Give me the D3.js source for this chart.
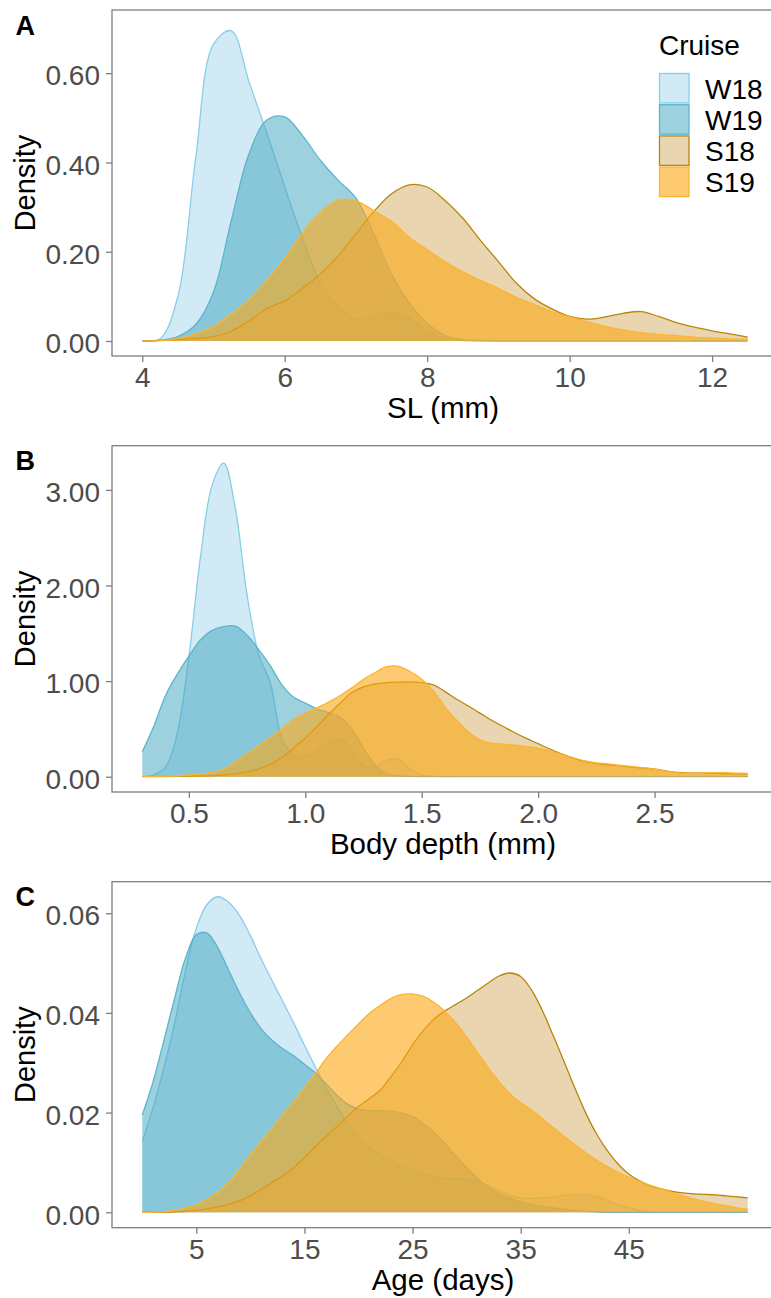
<!DOCTYPE html>
<html>
<head>
<meta charset="utf-8">
<script src="https://cdn.jsdelivr.net/npm/d3@7"></script>
<style>
  html, body { margin: 0; padding: 0; background: #ffffff; }
  svg { display: block; font-family: "Liberation Sans", Arial, Helvetica, sans-serif; }
</style>
</head>
<body>
<script>
// ---------------- DATA ----------------
const cruises = ["W18", "W19", "S18", "S19"];

// Panel A: SL (mm)
const slGrid = [4.00,4.25,4.50,4.75,5.00,5.25,5.50,5.75,6.00,6.25,6.50,6.75,7.00,7.25,7.50,7.75,8.00,8.25,8.50,8.75,9.00,9.25,9.50,9.75,10.00,10.25,10.50,10.75,11.00,11.25,11.50,11.75,12.00,12.25,12.50];
const slW18 = [0,0.005,0.100,0.410,0.665,0.695,0.580,0.465,0.345,0.230,0.130,0.078,0.049,0.057,0.066,0.052,0.022,0.005,0.001,0,0,0,0,0,0,0,0,0,0,0,0,0,0,0,0];
const slW19 = [0,0.002,0.010,0.037,0.110,0.270,0.420,0.495,0.502,0.460,0.405,0.360,0.320,0.240,0.150,0.085,0.040,0.013,0.003,0.001,0,0,0,0,0,0,0,0,0,0,0,0,0,0,0];
const slS18 = [0,0.001,0.003,0.006,0.010,0.022,0.045,0.073,0.090,0.118,0.150,0.190,0.240,0.290,0.330,0.350,0.345,0.315,0.275,0.225,0.178,0.130,0.095,0.072,0.055,0.049,0.054,0.062,0.066,0.055,0.041,0.031,0.023,0.016,0.009];
const slS19 = [0,0.001,0.006,0.016,0.033,0.060,0.092,0.137,0.185,0.243,0.288,0.316,0.314,0.292,0.268,0.232,0.205,0.178,0.155,0.136,0.118,0.098,0.082,0.066,0.054,0.043,0.033,0.025,0.019,0.015,0.012,0.009,0.007,0.005,0.004];

// Panel B: Body depth (mm)
const bdGrid = [0.30,0.35,0.40,0.45,0.50,0.55,0.60,0.65,0.70,0.75,0.80,0.85,0.90,0.95,1.00,1.05,1.10,1.15,1.20,1.25,1.30,1.35,1.40,1.45,1.50,1.55,1.60,1.65,1.70,1.75,1.80,1.85,1.90,1.95,2.00,2.05,2.10,2.15,2.20,2.25,2.30,2.35,2.40,2.45,2.50,2.55,2.60,2.65,2.70,2.75,2.80,2.85,2.90];
const bdW18 = [0,0.02,0.10,0.45,1.25,2.30,3.05,3.28,2.80,1.90,1.28,0.98,0.40,0.23,0.22,0.27,0.36,0.40,0.28,0.12,0.10,0.17,0.18,0.08,0.02,0.005,0,0,0,0,0,0,0,0,0,0,0,0,0,0,0,0,0,0,0,0,0,0,0,0,0,0,0];
const bdW19 = [0.26,0.53,0.85,1.07,1.26,1.43,1.53,1.57,1.575,1.48,1.33,1.16,0.96,0.83,0.77,0.71,0.67,0.62,0.50,0.30,0.12,0.035,0.01,0.003,0,0,0,0,0,0,0,0,0,0,0,0,0,0,0,0,0,0,0,0,0,0,0,0,0,0,0,0,0];
const bdS18 = [0,0.001,0.002,0.003,0.005,0.008,0.012,0.020,0.030,0.050,0.080,0.130,0.200,0.300,0.405,0.525,0.650,0.770,0.880,0.940,0.970,0.985,0.990,0.990,0.985,0.960,0.890,0.810,0.740,0.665,0.590,0.525,0.460,0.400,0.345,0.290,0.240,0.195,0.160,0.140,0.125,0.113,0.100,0.090,0.078,0.060,0.045,0.040,0.037,0.035,0.032,0.030,0.028];
const bdS19 = [0,0.002,0.005,0.010,0.020,0.030,0.045,0.080,0.155,0.240,0.320,0.410,0.500,0.600,0.665,0.720,0.780,0.850,0.930,1.020,1.090,1.150,1.155,1.100,1.020,0.900,0.730,0.590,0.470,0.385,0.350,0.340,0.330,0.315,0.300,0.270,0.235,0.200,0.165,0.145,0.135,0.120,0.108,0.094,0.078,0.058,0.040,0.036,0.038,0.042,0.042,0.038,0.035];

// Panel C: Age (days)
const ageGrid = [0,1,2,3,4,5,6,7,8,9,10,11,12,13,14,15,16,17,18,19,20,21,22,23,24,25,26,27,28,29,30,31,32,33,34,35,36,37,38,39,40,41,42,43,44,45,46,47,48,49,50,51,52,53,54,55,56];
const ageW18 = [0.0142,0.0210,0.0290,0.0380,0.0485,0.0570,0.0618,0.0633,0.0622,0.0595,0.0555,0.0508,0.0465,0.0423,0.0380,0.0335,0.0292,0.0250,0.0212,0.0178,0.0150,0.0130,0.0116,0.0104,0.0093,0.0084,0.0076,0.0071,0.0068,0.0068,0.0067,0.0063,0.0053,0.0043,0.0034,0.0029,0.0028,0.0029,0.0031,0.0034,0.0035,0.0035,0.0032,0.0024,0.0015,0.0009,0.0004,0.0001,0,0,0,0,0,0,0,0,0];
const ageW19 = [0.0195,0.0262,0.0345,0.0430,0.0510,0.0557,0.0560,0.0530,0.0485,0.0440,0.0400,0.0368,0.0345,0.0328,0.0314,0.0297,0.0280,0.0258,0.0235,0.0217,0.0207,0.0204,0.0204,0.0203,0.0199,0.0192,0.0178,0.0160,0.0138,0.0113,0.0090,0.0068,0.0050,0.0037,0.0028,0.0021,0.0016,0.0012,0.0009,0.0006,0.0004,0.0002,0.0001,0,0,0,0,0,0,0,0,0,0,0,0,0,0];
const ageS18 = [0,0,0,0.0001,0.0002,0.0004,0.0007,0.0011,0.0016,0.0023,0.0033,0.0046,0.0060,0.0073,0.0090,0.0110,0.0132,0.0152,0.0172,0.0193,0.0212,0.0228,0.0245,0.0272,0.0302,0.0336,0.0365,0.0388,0.0404,0.0417,0.0430,0.0445,0.0460,0.0474,0.0480,0.0473,0.0446,0.0405,0.0355,0.0303,0.0250,0.0200,0.0158,0.0124,0.0097,0.0077,0.0063,0.0053,0.0047,0.0042,0.0039,0.0037,0.0036,0.0035,0.0033,0.0031,0.0029];
const ageS19 = [0,0,0.0001,0.0004,0.0009,0.0015,0.0026,0.0040,0.0060,0.0086,0.0115,0.0142,0.0168,0.0196,0.0222,0.0250,0.0278,0.0308,0.0333,0.0356,0.0378,0.0399,0.0415,0.0429,0.0437,0.0438,0.0433,0.0421,0.0403,0.0380,0.0352,0.0321,0.0290,0.0262,0.0238,0.0220,0.0205,0.0188,0.0170,0.0153,0.0136,0.0120,0.0105,0.0092,0.0080,0.0070,0.0062,0.0054,0.0047,0.0040,0.0033,0.0027,0.0022,0.0017,0.0013,0.0009,0.0006];

// Tick values / labels
const slTicks = [4, 6, 8, 10, 12];
const bdTicks = [0.5, 1.0, 1.5, 2.0, 2.5];
const ageTicks = [5, 15, 25, 35, 45];
const slYTicks = [0, 0.2, 0.4, 0.6];
const bdYTicks = [0, 1, 2, 3];
const ageYTicks = [0, 0.02, 0.04, 0.06];

// ---------------- STYLE ----------------
const fills   = ["#a6d6ec", "#3ba3bd", "#d3ad61", "#fca714"];
const fillOp  = [0.5, 0.5, 0.5, 0.6];
const strokes = ["#87ceeb", "#5bb5cf", "#b8860b", "#fbb533"];
const axisGray = "#7f7f7f";
const tickTextColor = "#4d4d4d";

const W = 771, H = 1298;
const svg = d3.select("body").append("svg").attr("width", W).attr("height", H);

const panels = [
  { letter: "A", grid: slGrid, values: [slW18, slW19, slS18, slS19], xDomain: [3.575, 12.925], yDomain: [-0.0335, 0.7415],
    top: 10, bottom: 356, xTicks: slTicks, xFmt: d3.format("d"), yTicks: slYTicks, yFmt: d3.format(".2f"),
    xTitle: "SL (mm)", letterY: 35, legend: true },
  { letter: "B", grid: bdGrid, values: [bdW18, bdW19, bdS18, bdS19], xDomain: [0.17, 3.03], yDomain: [-0.16, 3.462],
    top: 445.7, bottom: 792, xTicks: bdTicks, xFmt: d3.format(".1f"), yTicks: bdYTicks, yFmt: d3.format(".2f"),
    xTitle: "Body depth (mm)", letterY: 470, legend: false },
  { letter: "C", grid: ageGrid, values: [ageW18, ageW19, ageS18, ageS19], xDomain: [-2.8, 58.8], yDomain: [-0.00309, 0.06632],
    top: 881.7, bottom: 1227.7, xTicks: ageTicks, xFmt: d3.format("d"), yTicks: ageYTicks, yFmt: d3.format(".2f"),
    xTitle: "Age (days)", letterY: 906, legend: false }
];

const left = 112, right = 778;
const curve = d3.curveCatmullRom.alpha(0.5);

panels.forEach(p => {
  const g = svg.append("g");
  const x = d3.scaleLinear().domain(p.xDomain).range([left, right]);
  const y = d3.scaleLinear().domain(p.yDomain).range([p.bottom, p.top]);

  const defs = g.append("defs");
  const clipId = "clip" + p.letter;
  defs.append("clipPath").attr("id", clipId).append("rect")
    .attr("x", left).attr("y", p.top).attr("width", right - left).attr("height", y(0) - p.top + 0.7);

  const plot = g.append("g").attr("clip-path", `url(#${clipId})`);
  cruises.forEach((c, i) => {
    const pts = p.grid.map((v, j) => [v, p.values[i][j]]);
    const area = d3.area().x(d => x(d[0])).y0(y(0)).y1(d => y(d[1])).curve(curve);
    const line = d3.line().x(d => x(d[0])).y(d => y(d[1])).curve(curve);
    plot.append("path").attr("d", area(pts)).attr("fill", fills[i]).attr("fill-opacity", fillOp[i]).attr("stroke", "none");
    plot.append("path").attr("d", line(pts)).attr("fill", "none").attr("stroke", strokes[i]).attr("stroke-width", 1.3);
  });

  // panel border
  g.append("rect").attr("x", left).attr("y", p.top).attr("width", right - left).attr("height", p.bottom - p.top)
    .attr("fill", "none").attr("stroke", axisGray).attr("stroke-width", 1.3);

  // y axis
  const ya = g.append("g").attr("transform", `translate(${left},0)`)
    .call(d3.axisLeft(y).tickValues(p.yTicks).tickFormat(p.yFmt).tickSize(6).tickPadding(6));
  ya.select(".domain").remove();
  ya.selectAll(".tick line").attr("stroke", axisGray).attr("stroke-width", 1.3);
  ya.selectAll(".tick text").attr("fill", tickTextColor).attr("font-size", 28).attr("dy", "0.42em")
    .style("font-family", "'Liberation Sans', Arial, sans-serif");

  // x axis
  const xa = g.append("g").attr("transform", `translate(0,${p.bottom})`)
    .call(d3.axisBottom(x).tickValues(p.xTicks).tickFormat(p.xFmt).tickSize(6).tickPadding(5.5));
  xa.select(".domain").remove();
  xa.selectAll(".tick line").attr("stroke", axisGray).attr("stroke-width", 1.3);
  xa.selectAll(".tick text").attr("fill", tickTextColor).attr("font-size", 28)
    .style("font-family", "'Liberation Sans', Arial, sans-serif");

  // axis titles
  g.append("text").attr("x", 443).attr("y", p.bottom + 62).attr("text-anchor", "middle")
    .attr("font-size", 29.5).attr("fill", "#000").text(p.xTitle);
  g.append("text").attr("transform", `translate(35,${(p.top + p.bottom) / 2}) rotate(-90)`)
    .attr("text-anchor", "middle").attr("font-size", 29).attr("fill", "#000").text("Density");

  // panel letter
  g.append("text").attr("x", 15.5).attr("y", p.letterY).attr("font-size", 27).attr("font-weight", "bold")
    .attr("fill", "#000").text(p.letter);

  if (p.legend) {
    const lg = g.append("g");
    lg.append("text").attr("x", 659).attr("y", 55).attr("font-size", 28).attr("fill", "#000").text("Cruise");
    cruises.forEach((c, i) => {
      const ky = 73.5 + i * 31.2;
      lg.append("rect").attr("x", 659.5).attr("y", ky).attr("width", 29.5).attr("height", 29.5)
        .attr("fill", fills[i]).attr("fill-opacity", fillOp[i]).attr("stroke", strokes[i]).attr("stroke-width", 1.3);
      lg.append("text").attr("x", 705).attr("y", ky + 25).attr("font-size", 28).attr("fill", "#000").text(c);
    });
  }
});
</script>
</body>
</html>
